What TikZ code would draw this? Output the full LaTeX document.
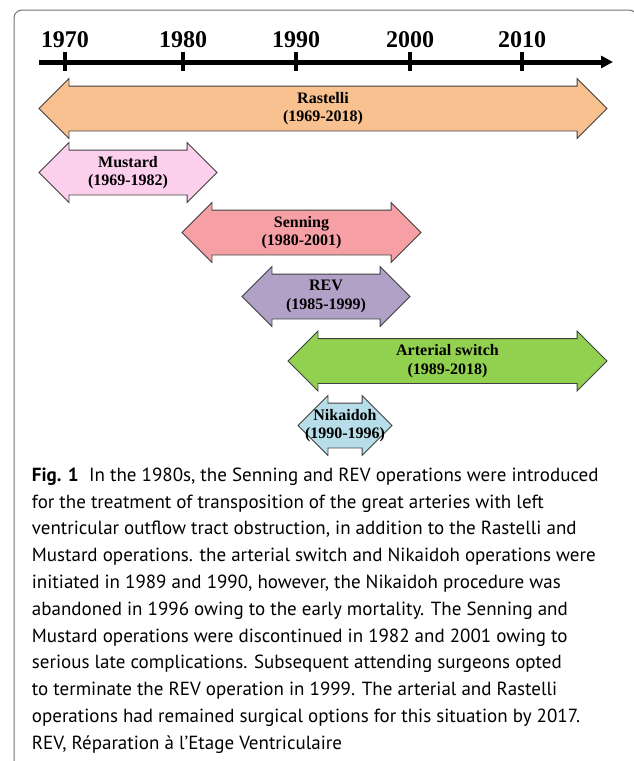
\documentclass[tikz,border=0pt]{standalone}
\usepackage{fontspec}
\setmainfont{Liberation Serif}
\newfontfamily\capfont{PT Sans}
\usetikzlibrary{positioning,arrows.meta,shapes.arrows}
\definecolor{figdark}{gray}{0.25}
\definecolor{framegrey}{gray}{0.45}
\definecolor{rastcol}{RGB}{248,193,143}
\definecolor{mustcol}{RGB}{252,208,236}
\definecolor{senncol}{RGB}{246,159,165}
\definecolor{revcol}{RGB}{177,161,199}
\definecolor{artcol}{RGB}{146,208,80}
\definecolor{nikcol}{RGB}{183,221,232}
\tikzset{
  fig/.style={font=\bfseries},
  axisline/.style={-{Triangle[length=12pt,width=12pt]},line width=5pt},
  tickmark/.style={line width=4pt},
  yearlbl/.style={font=\fontsize{24}{26}\selectfont\bfseries,anchor=base,inner sep=0pt},
  oparrow/.style={shape=double arrow,draw=figdark,line width=0.8pt,
                  double arrow head extend=7.5pt,minimum width=59pt,
                  inner xsep=0pt,inner ysep=22pt,outer sep=0pt},
  oplabel/.style={font=\fontsize{16}{18.5}\selectfont\bfseries,align=center,inner sep=0pt},
  caption/.style={font=\capfont\fontsize{19}{26.8}\selectfont,align=left,
                  anchor=north west,inner sep=0pt},
}

\begin{document}
\begin{tikzpicture}[fig,x=1pt,y=-1pt,
  frame/.style={draw=framegrey,line width=1pt,rounded corners=8pt}]

\useasboundingbox (0,0) rectangle (633,761);

% ------------------------------------------------ frame
\draw[frame] (14,764) -- (14,10) -- (637,10) -- (637,764);

% ------------------------------------------------ time axis
\coordinate (axisL) at (39,62);
\coordinate (axisR) at (613,62);
\draw[axisline] (axisL) -- (axisR);
\foreach \yr/\x in {1970/65, 1980/183, 1990/296, 2000/410, 2010/522}
  {\draw[tickmark] (\x,52) -- (\x,71);
   \node[yearlbl] (y\yr) at (\x,47) {\yr};}

% ------------------------------------------------ operations
\foreach \nm/\cx/\cy/\len/\col/\op/\yrs in {%
  rastelli/323/108.5/568/rastcol/Rastelli/1969-2018,
  mustard/128/172.5/178/mustcol/Mustard/1969-1982,
  senning/301.5/232.5/239/senncol/Senning/1980-2001,
  rev/326/296.5/168/revcol/REV/1985-1999,
  arterial/447.5/361/319/artcol/Arterial switch/1989-2018,
  nikaidoh/345/425.5/94/nikcol/Nikaidoh/1990-1996}
  {\node[oparrow,fill=\col,minimum height=\len pt] (\nm) at (\cx,\cy) {};
   \node[oplabel] (\nm lbl) at (\nm) {\op\\(\yrs)};}

% ------------------------------------------------ caption
\node[caption] (cap) at (31.7,467.5) {%
  \textbf{Fig. 1}\hspace{0.55em}In the 1980s, the Senning and REV operations were introduced\\
  for the treatment of transposition of the great arteries with left\\
  ventricular outflow tract obstruction, in addition to the Rastelli and\\
  Mustard operations. the arterial switch and Nikaidoh operations were\\
  initiated in 1989 and 1990, however, the Nikaidoh procedure was\\
  abandoned in 1996 owing to the early mortality. The Senning and\\
  Mustard operations were discontinued in 1982 and 2001 owing to\\
  serious late complications. Subsequent attending surgeons opted\\
  to terminate the REV operation in 1999. The arterial and Rastelli\\
  operations had remained surgical options for this situation by 2017.\\
  REV, Réparation à l’Etage Ventriculaire};

\end{tikzpicture}
\end{document}
